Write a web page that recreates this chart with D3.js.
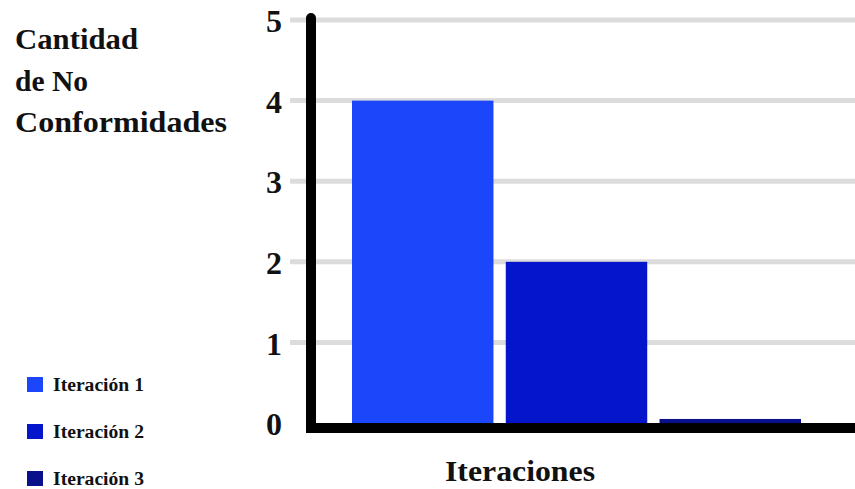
<!DOCTYPE html>
<html>
<head>
<meta charset="utf-8">
<script src="https://cdn.jsdelivr.net/npm/d3@7"></script>
<style>
  html, body { margin: 0; padding: 0; background: #fff; }
  svg { display: block; }
  text { font-family: "Liberation Serif", "Times New Roman", serif; font-weight: bold; fill: #111; }
</style>
</head>
<body>
<svg id="chart" width="855" height="489"></svg>
<script>
// Non-conformities found in each iteration
const categories = ["Iteración 1", "Iteración 2", "Iteración 3"];
const values = [4, 2, 0.05];
const colors = ["#1b46fa", "#0515cb", "#0a108c"];
const tickValues = [0, 1, 2, 3, 4, 5];
const yTitleLines = ["Cantidad", "de No", "Conformidades"];
const xTitle = "Iteraciones";

const svg = d3.select("#chart");
const W = 855;

const y = d3.scaleLinear().domain([0, 5]).range([423, 20]);
const x = d3.scaleBand().domain(categories).range([352, 801]).paddingInner(0.08).paddingOuter(0);

// Horizontal grid lines
svg.append("g").selectAll("line").data(tickValues.filter(d => d > 0)).join("line")
  .attr("x1", 290).attr("x2", W)
  .attr("y1", d => y(d)).attr("y2", d => y(d))
  .attr("stroke", "#dcdcdc").attr("stroke-width", 5);

// Tick labels via a left axis with hidden lines
const yAxis = d3.axisLeft(y).tickValues(tickValues).tickFormat(d3.format("d")).tickSize(0).tickPadding(0);
const gy = svg.append("g").attr("transform", "translate(282,1.5)").call(yAxis);
gy.select(".domain").remove();
gy.selectAll("text")
  .attr("font-family", "Liberation Serif, Times New Roman, serif")
  .attr("font-weight", "bold")
  .attr("font-size", 32)
  .attr("fill", "#111");

// Bars
svg.append("g").selectAll("rect").data(values).join("rect")
  .attr("x", (d, i) => x(categories[i]))
  .attr("width", x.bandwidth())
  .attr("y", d => y(d))
  .attr("height", d => y(0) - y(d))
  .attr("fill", (d, i) => colors[i]);

// Axis frame: thick vertical line with rounded top and thick baseline
svg.append("path")
  .attr("d", `M311,${y(5) - 2} V${y(0) + 5} H${W + 10}`)
  .attr("fill", "none")
  .attr("stroke", "#000")
  .attr("stroke-width", 10)
  .attr("stroke-linecap", "round")
  .attr("stroke-linejoin", "miter");

// Y title (three lines)
const yTitleWidths = [123, 73, 212];
const yTitleBaselines = [49, 91, 132];
svg.append("g").selectAll("text").data(yTitleLines).join("text")
  .attr("x", 15)
  .attr("y", (d, i) => yTitleBaselines[i])
  .attr("font-size", 29)
  .attr("textLength", (d, i) => yTitleWidths[i])
  .attr("lengthAdjust", "spacingAndGlyphs")
  .text(d => d);

// X title
svg.append("text")
  .attr("x", 445).attr("y", 481)
  .attr("font-size", 29)
  .attr("textLength", 150)
  .attr("lengthAdjust", "spacingAndGlyphs")
  .text(xTitle);

// Legend
const legend = svg.append("g").selectAll("g").data(categories).join("g")
  .attr("transform", (d, i) => `translate(27,${377 + i * 47})`);
legend.append("rect")
  .attr("width", 16).attr("height", 15)
  .attr("fill", (d, i) => colors[i]);
legend.append("text")
  .attr("x", 26).attr("y", 14)
  .attr("font-size", 18)
  .attr("textLength", 91)
  .attr("lengthAdjust", "spacingAndGlyphs")
  .text(d => d);
</script>
</body>
</html>
